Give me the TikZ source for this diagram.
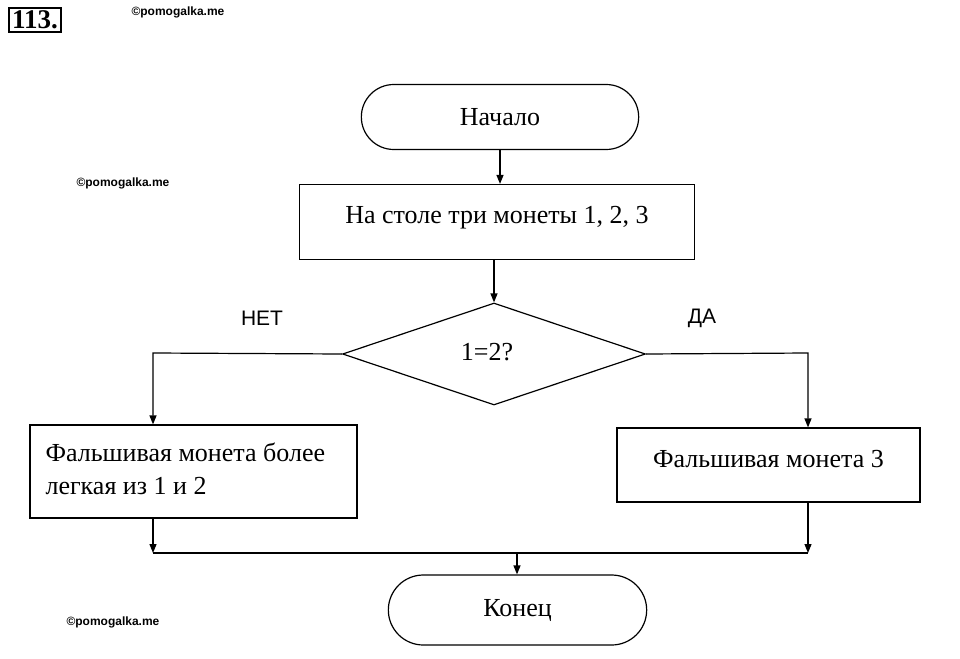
\documentclass[tikz,border=0pt]{standalone}
\usepackage{fontspec}
\setmainfont{Liberation Serif}
\newfontfamily\sansf{Liberation Sans}
\usetikzlibrary{shapes.geometric,shapes.misc,arrows.meta}
\begin{document}
\begin{tikzpicture}[x=1pt,y=-1pt,
  ln/.style={line width=1.2pt},
  ar/.style={ln,-{Triangle[length=9pt,width=7pt]}},
  term/.style={draw,ln,rounded rectangle,minimum width=284pt,minimum height=65pt,font=\fontsize{26}{30}\selectfont},
  box/.style={draw,ln,rectangle,font=\fontsize{26}{30}\selectfont},
  wm/.style={font=\sansf\bfseries\fontsize{12}{14}\selectfont,anchor=west},
  lab/.style={font=\sansf\fontsize{21}{24}\selectfont}]
\useasboundingbox (0,0) rectangle (960,658);
\node[draw,line width=1.8pt,inner sep=3pt,font=\bfseries\fontsize{27}{28}\selectfont] (num) at (35,20) {113.};
\node[wm] (w1) at (128,12) {©pomogalka.me};
\node[wm] (w2) at (73,183) {©pomogalka.me};
\node[wm] (w3) at (63,622) {©pomogalka.me};
\node[term] (start) at (500,117) {Начало};
\node[box,minimum width=395pt,minimum height=75pt,text depth=14pt] (init) at (497,222) {На столе три монеты 1, 2, 3};
\node[draw,ln,diamond,aspect=3,minimum width=303pt,minimum height=102pt,inner sep=0pt] (dec) at (494,354) {};
\node[font=\fontsize{26}{30}\selectfont] (dt) at (487,352) {1=2?};
\node[lab] (no) at (262,318) {НЕТ};
\node[lab] (yes) at (702,318) {ДА};
\node[box,minimum width=327pt,minimum height=93pt] (lb) at (193.5,471.5) {};
\node[font=\fontsize{26}{30}\selectfont,align=left,anchor=west] (lt) at (42,469) {Фальшивая монета более\\[3pt]легкая из 1 и 2};
\node[box,minimum width=303pt,minimum height=74pt,text depth=12pt] (rb) at (768.5,465) {Фальшивая монета 3};
\node[term,minimum width=265pt,minimum height=70pt] (end) at (517.5,610) {Конец};
\coordinate (lc) at (153,353);
\coordinate (rc) at (808,353);
\coordinate (ld) at (153,553);
\coordinate (rd) at (808,553);
\coordinate (md) at (517,553);
\draw[ar] (start.south) -- (start.south |- init.north);
\draw[ar] (init.south -| dec.north) -- (dec.north);
\draw[ar] (dec.west) -- (lc) -- (lb.north -| lc);
\draw[ar] (dec.east) -- (rc) -- (rb.north -| rc);
\draw[ar] (lb.south -| ld) -- (ld);
\draw[ar] (rb.south -| rd) -- (rd);
\draw[ln] (ld) -- (rd);
\draw[ar] (md) -- (md |- end.north);
\end{tikzpicture}
\end{document}
